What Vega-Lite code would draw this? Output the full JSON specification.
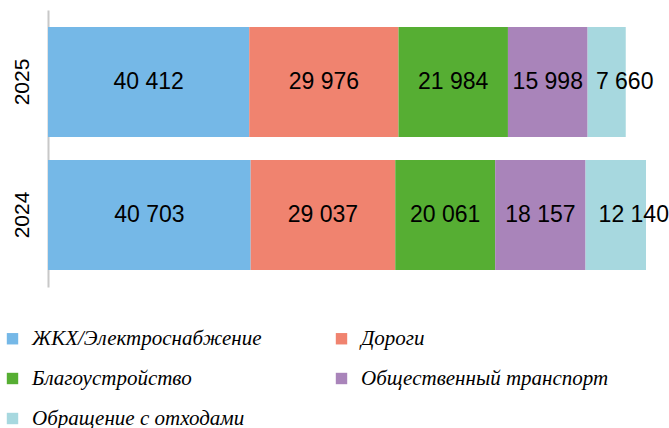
{
  "$schema": "https://vega.github.io/schema/vega-lite/v6.json",
  "autosize": {"type": "none"},
  "width": 598,
  "height": 277,
  "padding": {"left": 48, "top": 10, "right": 23, "bottom": 141},
  "config": {
    "view": {"stroke": null},
    "locale": {"number": {"decimal": ",", "thousands": " ", "grouping": [3], "currency": ["", ""]}}
  },
  "data": {
    "values": [
      {"year": "2025", "category": "ЖКХ/Электроснабжение", "order": 1, "value": 40412},
      {"year": "2025", "category": "Дороги", "order": 2, "value": 29976},
      {"year": "2025", "category": "Благоустройство", "order": 3, "value": 21984},
      {"year": "2025", "category": "Общественный транспорт", "order": 4, "value": 15998},
      {"year": "2025", "category": "Обращение с отходами", "order": 5, "value": 7660},
      {"year": "2024", "category": "ЖКХ/Электроснабжение", "order": 1, "value": 40703},
      {"year": "2024", "category": "Дороги", "order": 2, "value": 29037},
      {"year": "2024", "category": "Благоустройство", "order": 3, "value": 20061},
      {"year": "2024", "category": "Общественный транспорт", "order": 4, "value": 18157},
      {"year": "2024", "category": "Обращение с отходами", "order": 5, "value": 12140}
    ]
  },
  "transform": [
    {"stack": "value", "groupby": ["year"], "sort": [{"field": "order", "order": "ascending"}], "as": ["x0", "x1"]},
    {"calculate": "(datum.x0 + datum.x1) / 2", "as": "xm"}
  ],
  "encoding": {
    "y": {
      "field": "year", "type": "nominal", "sort": ["2025", "2024"],
      "scale": {"paddingInner": 0.173, "paddingOuter": 0.128},
      "axis": {
        "title": null, "ticks": false, "labelAngle": -90, "labelPadding": 16,
        "labelFont": "Liberation Sans", "labelFontSize": 21, "labelColor": "#000000",
        "domainColor": "#c8c8c8", "domainWidth": 2
      }
    }
  },
  "layer": [
    {
      "mark": {"type": "bar"},
      "encoding": {
        "x": {"field": "x0", "type": "quantitative", "scale": {"domain": [0, 120098], "nice": false}, "axis": null},
        "x2": {"field": "x1"},
        "color": {
          "field": "category", "type": "nominal",
          "scale": {
            "domain": ["ЖКХ/Электроснабжение", "Дороги", "Благоустройство", "Общественный транспорт", "Обращение с отходами"],
            "range": ["#75b8e7", "#f0836f", "#56ae33", "#a984ba", "#a7d8df"]
          },
          "legend": {
            "title": null, "orient": "none", "legendX": -46, "legendY": 318, "direction": "horizontal",
            "columns": 2, "columnPadding": 69, "rowPadding": 18,
            "symbolType": "square", "symbolSize": 130, "symbolStrokeWidth": 0, "labelOffset": 9,
            "labelFont": "Liberation Serif", "labelFontStyle": "italic", "labelFontSize": 21, "labelColor": "#000000", "labelLimit": 400
          }
        }
      }
    },
    {
      "transform": [{"filter": "datum.order < 5"}],
      "mark": {"type": "text", "font": "Liberation Sans", "fontSize": 23, "color": "#000000"},
      "encoding": {
        "x": {"field": "xm", "type": "quantitative"},
        "text": {"field": "value", "type": "quantitative", "format": ",d"}
      }
    },
    {
      "transform": [{"filter": "datum.order == 5"}],
      "mark": {"type": "text", "font": "Liberation Sans", "fontSize": 23, "color": "#000000", "dx": 18},
      "encoding": {
        "x": {"field": "xm", "type": "quantitative"},
        "text": {"field": "value", "type": "quantitative", "format": ",d"}
      }
    }
  ]
}
